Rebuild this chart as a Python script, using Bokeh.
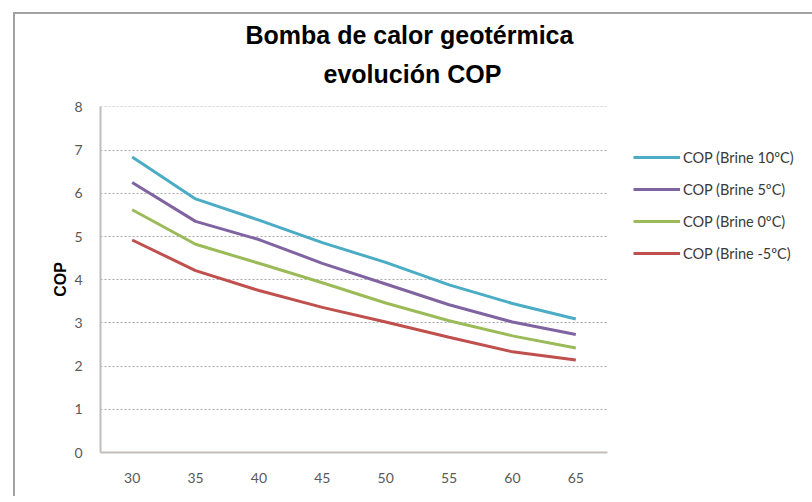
from bokeh.plotting import figure
from bokeh.models import ColumnDataSource, FactorRange, Range1d, Title
from bokeh.embed import file_html
from bokeh.resources import INLINE

temps = ["30", "35", "40", "45", "50", "55", "60", "65"]
brine_10 = [6.84, 5.87, 5.38, 4.86, 4.40, 3.88, 3.45, 3.09]
brine_5 = [6.25, 5.35, 4.93, 4.38, 3.90, 3.42, 3.02, 2.73]
brine_0 = [5.62, 4.82, 4.38, 3.93, 3.46, 3.05, 2.70, 2.42]
brine_m5 = [4.92, 4.21, 3.75, 3.36, 3.02, 2.67, 2.33, 2.14]

series = [
    ("COP (Brine 10ºC)", "b10", "#4bacc6"),
    ("COP (Brine 5ºC)", "b5", "#8064a2"),
    ("COP (Brine 0ºC)", "b0", "#9bbb59"),
    ("COP (Brine -5ºC)", "bm5", "#c0504d"),
]

src = ColumnDataSource(dict(t=temps, b10=brine_10, b5=brine_5, b0=brine_0, bm5=brine_m5))

p = figure(x_range=FactorRange(*temps), y_range=Range1d(0, 8.01),
           frame_width=507, frame_height=346,
           min_border_left=85, min_border_right=185, min_border_top=92, min_border_bottom=44,
           output_backend="svg", toolbar_location=None)
p.styles = {"margin-left": "13px", "margin-top": "12px",
            "border-left": "2px solid #a3a3a3", "border-top": "2px solid #a3a3a3"}
p.outline_line_color = None
p.background_fill_color = "white"
p.border_fill_color = "white"

for name, c, color in series:
    p.line(x="t", y=c, source=src, line_width=3, color=color, legend_label=name)

# grid
p.xgrid.visible = False
p.ygrid.grid_line_color = "#aaaaaa"
p.ygrid.grid_line_dash = "2 2"
p.ygrid.grid_line_width = 1
p.yaxis.ticker = [0, 1, 2, 3, 4, 5, 6, 7, 8]

for ax in (p.xaxis[0], p.yaxis[0]):
    ax.axis_line_color = "#c4bcb6"
    ax.axis_line_width = 2
    ax.major_tick_in = 0
    ax.major_tick_out = 0
    ax.minor_tick_in = 0
    ax.minor_tick_out = 0
    ax.major_label_text_font = "Lato"
    ax.major_label_text_font_size = "14px"
    ax.major_label_text_color = "#595959"

p.xaxis.major_label_standoff = 20
p.yaxis.major_label_standoff = 18
p.yaxis.axis_label = "COP"
p.yaxis.axis_label_text_font = "Liberation Sans"
p.yaxis.axis_label_text_font_style = "bold"
p.yaxis.axis_label_text_font_size = "16px"
p.yaxis.axis_label_text_color = "#000000"
p.yaxis.axis_label_standoff = 2

# legend in the right panel
leg = p.legend[0]
p.center.remove(leg)
leg.location = (26, 189)
leg.border_line_color = None
leg.background_fill_alpha = 0
leg.padding = 0
leg.margin = 0
leg.spacing = 12
leg.glyph_width = 47
leg.glyph_height = 20
leg.label_height = 20
leg.label_standoff = 3
leg.label_text_font = "Lato"
leg.label_text_font_size = "14.5px"
leg.label_text_color = "#3a3a3a"
p.add_layout(leg, "right")

# two-line title
p.add_layout(Title(text="evolución COP", align="left", offset=223, standoff=37,
                   text_font="Liberation Sans", text_font_style="bold",
                   text_font_size="25px", text_color="#000000"), "above")
p.add_layout(Title(text="Bomba de calor geotérmica", align="left", offset=145, standoff=-19,
                   text_font="Liberation Sans", text_font_style="bold",
                   text_font_size="25px", text_color="#000000"), "above")

open("out.html", "w").write(file_html(p, INLINE))
